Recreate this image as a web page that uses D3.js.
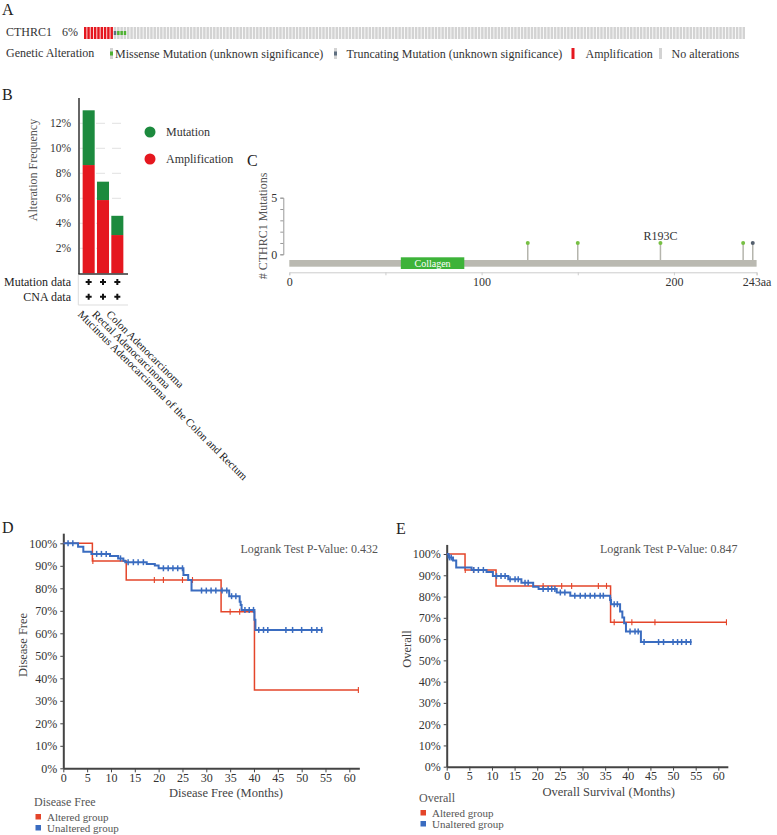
<!DOCTYPE html>
<html>
<head>
<meta charset="utf-8">
<script src="https://cdn.jsdelivr.net/npm/d3@7"></script>
<style>
  body{margin:0;background:#fff;}
  text{font-family:"Liberation Serif","Times New Roman",serif;}
</style>
</head>
<body>
<svg id="fig"></svg>
<script>
// ---------- data ----------
// A: oncoprint
const geneName = "CTHRC1";
const genePct = "6%";
const oncoTypes = ["amp", "trunc", "missense", "none"];
const oncoCounts = [9, 1, 3, 187];
const oncoLegend = ["Missense Mutation (unknown significance)", "Truncating Mutation (unknown significance)", "Amplification", "No alterations"];

// B: alteration frequency by cancer type
const cancerTypes = ["Mucinous Adenocarcinoma of the Colon and Rectum", "Rectal Adenocarcinoma", "Colon Adenocarcinoma"];
const amplificationFreq = [8.66, 5.86, 3.06];
const mutationFreq = [4.38, 1.47, 1.54];
const freqTicks = [2, 4, 6, 8, 10, 12];

// C: lollipop
const proteinLength = 243;
const domainNames = ["Collagen"];
const domainStart = [58];
const domainEnd = [91];
const mutPos = [124, 150, 193, 236, 241];
const mutCount = [1, 1, 1, 1, 1];
const mutKind = ["missense", "missense", "missense", "missense", "truncating"];
const mutLabel = ["", "", "R193C", "", ""];

// D: disease free KM
const dfAltTime = [0, 6.1, 13.2, 33.1, 40.1];
const dfAltSurv = [100, 92.1, 83.7, 69.6, 34.8];
const dfAltEnd = 61.9;
const dfAltCensor = [6.2, 19.1, 21, 25, 27.1, 35, 37, 61.9];
const dfUnaltTime = [0, 3.1, 4.2, 5.9, 9.8, 11.5, 12.6, 13.0, 17.5, 19.2, 20.0, 25.2, 26.2, 26.9, 34.8, 37.0, 37.2, 37.4, 40.1, 40.3];
const dfUnaltSurv = [100, 98.5, 96.3, 95.3, 94.4, 93.3, 92.3, 91.6, 90.8, 90.1, 88.9, 85.9, 83.7, 79.0, 76.5, 74.0, 72.6, 70.4, 66.0, 61.5];
const dfUnaltEnd = 54.4;
const dfUnaltCensor = [1, 2, 7, 8, 9, 12, 13.6, 14.7, 15.7, 16.8, 21, 22, 23, 24, 25, 29, 30, 31, 32, 33.3, 34.3, 35.3, 36.2, 38.1, 39, 39.9, 41, 42, 42.9, 46.7, 48.1, 50, 52.1, 53.2, 54.2];

// E: overall survival KM
const osAltTime = [0, 4.05, 10.9, 36.2];
const osAltSurv = [100, 92.5, 85.0, 67.9];
const osAltEnd = 61.8;
const osAltCensor = [4.1, 5.9, 21.3, 25.4, 27.6, 33.5, 35.3, 37.0, 40.9, 46.0, 61.8];
const osUnaltTime = [0, 0.4, 1.4, 2.1, 5.5, 8.8, 10.2, 13.6, 16.5, 19.1, 20.3, 24.3, 27.3, 36.1, 36.3, 38.3, 38.8, 39.2, 39.6, 42.9];
const osUnaltSurv = [100, 98.4, 96.9, 93.6, 92.5, 91.5, 89.6, 88.1, 86.5, 84.6, 83.6, 81.9, 80.4, 78.4, 76.4, 73.0, 70.2, 67.5, 63.6, 58.6];
const osUnaltEnd = 54.1;
const osUnaltCensor = [0.6, 1.0, 6.0, 7.0, 8.1, 11.0, 12.0, 12.9, 14.0, 15.1, 15.8, 17.3, 18.0, 21.3, 22.4, 23.2, 23.9, 25.1, 26.1, 28.3, 29.5, 30.6, 31.7, 32.7, 33.9, 34.6, 36.2, 37.0, 37.7, 40.5, 41.6, 42.3, 43.6, 46.8, 47.9, 50.0, 51.0, 51.9, 52.9, 53.9];

const kmTicksX = d3.range(0, 61, 5);
const kmTicksY = d3.range(0, 101, 10);

// ---------- figure ----------
const svg = d3.select("#fig").attr("width", 777).attr("height", 835);
const RED = "#e5171f", GREEN = "#1c8a3e", GRAY = "#d3d3d3";
const KM_RED = "#e4452a", KM_BLUE = "#3a6cc0";

function panelLabel(t, x, y){
    svg.append("text").attr("x", x).attr("y", y).style("font-size", "16px").attr("fill", "#222").text(t);
}

// ===== A =====
panelLabel("A", 2, 15);
svg.append("text").attr("x", 6).attr("y", 36).style("font-size", "12px").attr("fill", "#333").text(geneName);
svg.append("text").attr("x", 62).attr("y", 36).style("font-size", "12px").attr("fill", "#333").text(genePct);

var samples = [];
oncoTypes.forEach(function(t, i){ for (var k = 0; k < oncoCounts[i]; k++) samples.push(t); });
var xA = d3.scaleBand().domain(d3.range(samples.length)).range([84, 745]).paddingInner(0.25);
var cells = svg.append("g").selectAll("g").data(samples).enter().append("g")
    .attr("transform", function(d, i){ return "translate(" + xA(i) + ",27)"; });
cells.append("rect").attr("width", xA.bandwidth()).attr("height", 12)
    .attr("fill", function(d){ return d === "amp" ? RED : GRAY; });
cells.filter(function(d){ return d === "missense" || d === "trunc"; })
    .append("rect").attr("y", 4).attr("width", xA.bandwidth()).attr("height", 4)
    .attr("fill", function(d){ return d === "missense" ? "#4fb233" : "#5f6f80"; });

svg.append("text").attr("x", 6).attr("y", 57).style("font-size", "12px").attr("fill", "#333").text("Genetic Alteration");
// icon x, kind, text x
var legA = [[110, "missense", 115], [334, "trunc", 346.5], [571.5, "amp", 585.5], [659, "none", 671.5]];
legA.forEach(function(l, i){
    var g = svg.append("g").attr("transform", "translate(" + l[0] + ",48)");
    g.append("rect").attr("width", 3).attr("height", 11).attr("fill", l[1] === "amp" ? RED : GRAY);
    if (l[1] === "missense" || l[1] === "trunc")
        g.append("rect").attr("y", 3.5).attr("width", 3).attr("height", 4)
            .attr("fill", l[1] === "missense" ? "#4fb233" : "#5f6f80");
    svg.append("text").attr("x", l[2]).attr("y", 57.5).style("font-size", "12px")
        .attr("fill", "#333").text(oncoLegend[i]);
});

// ===== B =====
panelLabel("B", 2, 100);
var yB = d3.scaleLinear().domain([0, 14]).range([273.3, 98.3]);
var xB = d3.scaleBand().domain(cancerTypes).range([81.5, 124.5]).paddingInner(0.16).paddingOuter(0.08);

svg.append("g").selectAll("line").data(freqTicks).enter().append("line")
    .attr("x1", 80).attr("x2", 128).attr("y1", function(d){ return yB(d); }).attr("y2", function(d){ return yB(d); })
    .attr("stroke", "#e2e2e2").attr("stroke-dasharray", "9,7");

var barsB = svg.append("g");
barsB.selectAll(".amp").data(cancerTypes).enter().append("rect")
    .attr("x", function(d){ return xB(d); }).attr("width", xB.bandwidth())
    .attr("y", function(d, i){ return yB(amplificationFreq[i]); })
    .attr("height", function(d, i){ return yB(0) - yB(amplificationFreq[i]); })
    .attr("fill", RED);
barsB.selectAll(".mut").data(cancerTypes).enter().append("rect")
    .attr("x", function(d){ return xB(d); }).attr("width", xB.bandwidth())
    .attr("y", function(d, i){ return yB(amplificationFreq[i] + mutationFreq[i]); })
    .attr("height", function(d, i){ return yB(amplificationFreq[i]) - yB(amplificationFreq[i] + mutationFreq[i]); })
    .attr("fill", GREEN);

var axB = svg.append("g").attr("transform", "translate(79,0)")
    .call(d3.axisLeft(yB).tickValues(freqTicks).tickFormat(function(d){ return d + "%"; }).tickSize(0).tickPadding(8));
axB.select(".domain").remove();
axB.selectAll("text").style("font-size", "11.5px").attr("fill", "#333").style("font-family", "Liberation Serif");
svg.append("line").attr("x1", 79).attr("x2", 79).attr("y1", 98).attr("y2", 274).attr("stroke", "#333").attr("stroke-width", 1.5);
svg.append("line").attr("x1", 78.3).attr("x2", 128).attr("y1", 274).attr("y2", 274).attr("stroke", "#333").attr("stroke-width", 1.5);
svg.append("text").attr("transform", "translate(37,170) rotate(-90)").attr("text-anchor", "middle")
    .style("font-size", "12px").attr("fill", "#555").text("Alteration Frequency");

// legend B
[["Mutation", GREEN, 132], ["Amplification", RED, 159]].forEach(function(l){
    svg.append("circle").attr("cx", 150).attr("cy", l[2]).attr("r", 5.5).attr("fill", l[1]);
    svg.append("text").attr("x", 166).attr("y", l[2] + 4).style("font-size", "12px").attr("fill", "#333").text(l[0]);
});

// data rows
svg.append("text").attr("x", 71).attr("y", 286).attr("text-anchor", "end").style("font-size", "12px").attr("fill", "#222").text("Mutation data");
svg.append("text").attr("x", 71).attr("y", 300.5).attr("text-anchor", "end").style("font-size", "12px").attr("fill", "#222").text("CNA data");
svg.append("line").attr("x1", 78.3).attr("x2", 78.3).attr("y1", 275).attr("y2", 305).attr("stroke", "#ddd");
svg.append("line").attr("x1", 78.3).attr("x2", 128).attr("y1", 305).attr("y2", 305).attr("stroke", "#ddd");
[282, 296.7].forEach(function(yy){
    svg.append("g").selectAll("path").data(cancerTypes).enter().append("path")
        .attr("d", function(d){ var cx = xB(d) + xB.bandwidth() / 2; return "M" + (cx - 3) + "," + yy + "H" + (cx + 3) + "M" + cx + "," + (yy - 3) + "V" + (yy + 3); })
        .attr("stroke", "#111").attr("stroke-width", 2);
});
svg.append("g").selectAll("text").data(cancerTypes).enter().append("text")
    .attr("transform", function(d){ return "translate(" + (xB(d) + xB.bandwidth() / 2 - 11.5) + ",315) rotate(45)"; })
    .style("font-size", "11px").attr("fill", "#222").text(function(d){ return d; });

// ===== C =====
panelLabel("C", 247, 166);
var xC = d3.scaleLinear().domain([0, proteinLength]).range([289.3, 756.6]);
var yC = d3.scaleLinear().domain([0, 5]).range([254.3, 197.7]);

var axCy = svg.append("g").attr("transform", "translate(283.3,0)")
    .call(d3.axisLeft(yC).tickValues([0, 1, 2, 3, 4, 5]).tickFormat(function(d){ return (d === 0 || d === 5) ? d : ""; }).tickSizeOuter(0).tickSize(3).tickPadding(3));
axCy.select(".domain").attr("stroke", "#999");
axCy.selectAll("line").attr("stroke", "#999");
axCy.selectAll("text").style("font-size", "12px").attr("fill", "#333").style("font-family", "Liberation Serif");
svg.append("text").attr("transform", "translate(267,226) rotate(-90)").attr("text-anchor", "middle")
    .style("font-size", "12px").attr("fill", "#555").text("# " + geneName + " Mutations");

var axCx = svg.append("g").attr("transform", "translate(0,272.3)")
    .call(d3.axisBottom(xC).tickValues([0, 50, 100, 150, 200, proteinLength])
        .tickFormat(function(d){ return d === proteinLength ? d + "aa" : (d % 100 === 0 ? d : ""); })
        .tickSizeOuter(0).tickSize(3).tickPadding(2));
axCx.select(".domain").attr("stroke", "#ccc");
axCx.selectAll("line").attr("stroke", "#ccc");
axCx.selectAll("text").style("font-size", "12px").attr("fill", "#333").style("font-family", "Liberation Serif");

// sticks + heads
var lol = svg.append("g").selectAll("g").data(mutPos).enter().append("g");
lol.append("line").attr("x1", function(d){ return xC(d); }).attr("x2", function(d){ return xC(d); })
    .attr("y1", 260).attr("y2", function(d, i){ return yC(mutCount[i]); }).attr("stroke", "#b5b5ad").attr("stroke-width", 1.5);
lol.append("circle").attr("cx", function(d){ return xC(d); }).attr("cy", function(d, i){ return yC(mutCount[i]); })
    .attr("r", 2).attr("fill", function(d, i){ return mutKind[i] === "missense" ? "#77c043" : "#55606e"; });
lol.append("text").attr("x", function(d){ return xC(d); }).attr("y", 240).attr("text-anchor", "middle")
    .style("font-size", "12px").attr("fill", "#333").text(function(d, i){ return mutLabel[i]; });

svg.append("rect").attr("x", xC(0)).attr("width", xC(proteinLength) - xC(0)).attr("y", 260).attr("height", 6.7).attr("fill", "#bab9b1");
var dom = svg.append("g").selectAll("g").data(domainNames).enter().append("g");
dom.append("rect").attr("x", function(d, i){ return xC(domainStart[i]); })
    .attr("width", function(d, i){ return xC(domainEnd[i]) - xC(domainStart[i]); })
    .attr("y", 257.3).attr("height", 11.7).attr("fill", "#3db339");
dom.append("text").attr("x", function(d, i){ return (xC(domainStart[i]) + xC(domainEnd[i])) / 2; })
    .attr("y", 266.8).attr("text-anchor", "middle").style("font-size", "10px").attr("fill", "#fff").text(function(d){ return d; });

// ===== D & E =====
function survAt(times, surv, t){
    var i = d3.bisectRight(times, t) - 1;
    return surv[Math.max(0, i)];
}

function drawKM(cfg){
    var x = d3.scaleLinear().domain([0, 62.1]).range([cfg.x0, cfg.x0 + 62.1 * cfg.pxm]);
    var y = d3.scaleLinear().domain([0, 104.5]).range([cfg.y0, cfg.y0 - 104.5 * cfg.pxp]);
    var g = svg.append("g");

    var ax = g.append("g").attr("transform", "translate(0," + cfg.y0 + ")")
        .call(d3.axisBottom(x).tickValues(kmTicksX).tickSize(4).tickSizeOuter(0).tickPadding(1));
    var ay = g.append("g").attr("transform", "translate(" + cfg.x0 + ",0)")
        .call(d3.axisLeft(y).tickValues(kmTicksY).tickFormat(function(d){ return d + "%"; }).tickSize(3).tickSizeOuter(0).tickPadding(3));
    [ax, ay].forEach(function(a){
        a.select(".domain").attr("stroke", "#444").attr("stroke-width", 2);
        a.selectAll(".tick line").attr("stroke", "#444");
        a.selectAll("text").style("font-size", "12px").attr("fill", "#333").style("font-family", "Liberation Serif");
    });

    var line = d3.line().x(function(d){ return x(d[0]); }).y(function(d){ return y(d[1]); }).curve(d3.curveStepAfter);
    cfg.groups.forEach(function(s){
        var pts = s.time.map(function(t, i){ return [t, s.surv[i]]; });
        pts.push([s.end, s.surv[s.surv.length - 1]]);
        g.append("path").datum(pts).attr("d", line).attr("fill", "none")
            .attr("stroke", s.color).attr("stroke-width", s.w);
        g.append("g").selectAll("line").data(s.censor).enter().append("line")
            .attr("x1", function(d){ return x(d); }).attr("x2", function(d){ return x(d); })
            .attr("y1", function(d){ return y(survAt(s.time, s.surv, d)) - 3; })
            .attr("y2", function(d){ return y(survAt(s.time, s.surv, d)) + 3; })
            .attr("stroke", s.color).attr("stroke-width", s.w * 0.75);
    });

    g.append("text").attr("x", cfg.pvx).attr("y", 553).style("font-size", "12px").attr("fill", "#555").text(cfg.pval);
    g.append("text").attr("transform", "translate(" + cfg.ylx + "," + cfg.yly + ") rotate(-90)").attr("text-anchor", "middle")
        .style("font-size", "12.5px").attr("fill", "#444").text(cfg.ylab);
    g.append("text").attr("x", cfg.xlx).attr("y", cfg.xly).attr("text-anchor", "middle")
        .style("font-size", "12.5px").attr("fill", "#444").text(cfg.xlab);
    // legend
    g.append("text").attr("x", cfg.lx).attr("y", cfg.ly).style("font-size", "12px").attr("fill", "#555").text(cfg.ylab);
    cfg.groups.forEach(function(s, i){
        var yy = cfg.ly + 11 + i * 11;
        g.append("rect").attr("x", cfg.lx + 1.5).attr("y", yy - 3).attr("width", 5.5).attr("height", 5.5).attr("fill", s.color);
        g.append("text").attr("x", cfg.lx + 13).attr("y", yy + 3.5).style("font-size", "11px").attr("fill", "#555").text(s.name);
    });
}

panelLabel("D", 2, 533);
drawKM({
    x0: 63.3, y0: 768.3, pxm: 4.767, pxp: 2.25,
    pval: "Logrank Test P-Value: 0.432", pvx: 240.5,
    ylab: "Disease Free", ylx: 27, yly: 645,
    xlab: "Disease Free (Months)", xlx: 226, xly: 797,
    lx: 34, ly: 806,
    groups: [
        {name: "Altered group", time: dfAltTime, surv: dfAltSurv, end: dfAltEnd, censor: dfAltCensor, color: KM_RED, w: 1.5},
        {name: "Unaltered group", time: dfUnaltTime, surv: dfUnaltSurv, end: dfUnaltEnd, censor: dfUnaltCensor, color: KM_BLUE, w: 2}
    ]
});

panelLabel("E", 396, 534);
drawKM({
    x0: 446.7, y0: 766.7, pxm: 4.527, pxp: 2.127,
    pval: "Logrank Test P-Value: 0.847", pvx: 600,
    ylab: "Overall", ylx: 411, yly: 649,
    xlab: "Overall Survival (Months)", xlx: 608.7, xly: 796,
    lx: 419, ly: 802,
    groups: [
        {name: "Altered group", time: osAltTime, surv: osAltSurv, end: osAltEnd, censor: osAltCensor, color: KM_RED, w: 1.5},
        {name: "Unaltered group", time: osUnaltTime, surv: osUnaltSurv, end: osUnaltEnd, censor: osUnaltCensor, color: KM_BLUE, w: 2}
    ]
});
</script>
</body>
</html>
